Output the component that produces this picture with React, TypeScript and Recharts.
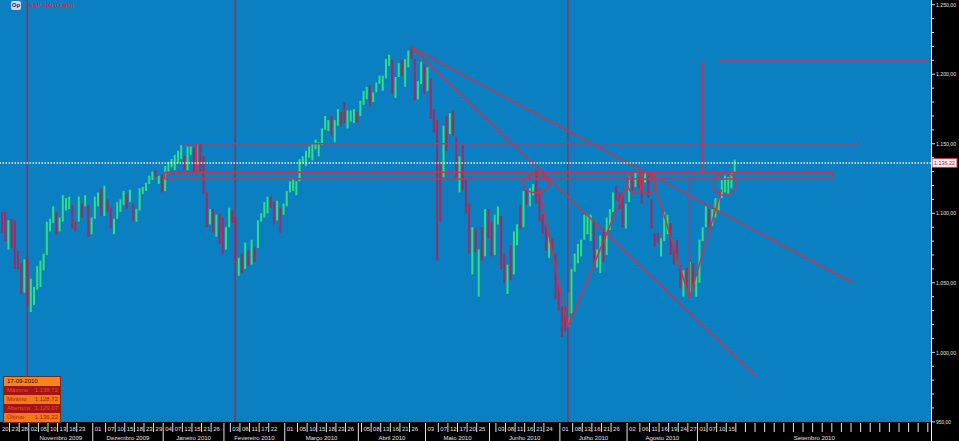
import { ComposedChart, Bar, XAxis, YAxis, CartesianGrid, Cell, ReferenceLine, ReferenceDot } from 'recharts'

// trading days shown on the chart, month by month
const MONTHS: [string, string, number[]][] = [
  ['2009-10', 'Outubro 2009', [20, 21, 22, 23, 26, 27, 28, 29, 30]],
  ['2009-11', 'Novembro 2009', [2, 3, 4, 5, 6, 9, 10, 11, 12, 13, 16, 17, 18, 19, 20, 23, 24, 25, 27, 30]],
  ['2009-12', 'Dezembro 2009', [1, 2, 3, 4, 7, 8, 9, 10, 11, 14, 15, 16, 17, 18, 21, 22, 23, 24, 28, 29, 30, 31]],
  ['2010-01', 'Janeiro 2010', [4, 5, 6, 7, 8, 11, 12, 13, 14, 15, 19, 20, 21, 22, 25, 26, 27, 28, 29]],
  ['2010-02', 'Fevereiro 2010', [1, 2, 3, 4, 5, 8, 9, 10, 11, 12, 16, 17, 18, 19, 22, 23, 24, 25, 26]],
  ['2010-03', 'Março 2010', [1, 2, 3, 4, 5, 8, 9, 10, 11, 12, 15, 16, 17, 18, 19, 22, 23, 24, 25, 26, 29, 30, 31]],
  ['2010-04', 'Abril 2010', [1, 5, 6, 7, 8, 9, 12, 13, 14, 15, 16, 19, 20, 21, 22, 23, 26, 27, 28, 29, 30]],
  ['2010-05', 'Maio 2010', [3, 4, 5, 6, 7, 10, 11, 12, 13, 14, 17, 18, 19, 20, 21, 24, 25, 26, 27, 28]],
  ['2010-06', 'Junho 2010', [1, 2, 3, 4, 7, 8, 9, 10, 11, 14, 15, 16, 17, 18, 21, 22, 23, 24, 25, 28, 29, 30]],
  ['2010-07', 'Julho 2010', [1, 2, 6, 7, 8, 9, 12, 13, 14, 15, 16, 19, 20, 21, 22, 23, 26, 27, 28, 29, 30]],
  ['2010-08', 'Agosto 2010', [2, 3, 4, 5, 6, 9, 10, 11, 12, 13, 16, 17, 18, 19, 20, 23, 24, 25, 26, 27, 30, 31]],
  ['2010-09', 'Setembro 2010', [1, 2, 3, 7, 8, 9, 10, 13, 14, 15, 16, 17]],
]

// days printed on the date row
const DAY_LABELS: Record<string, number[]> = {
  '2009-10': [20, 23, 28],
  '2009-11': [2, 5, 10, 13, 18, 23],
  '2009-12': [1, 7, 10, 15, 18, 23, 29],
  '2010-01': [4, 7, 12, 15, 21, 26],
  '2010-02': [3, 8, 11, 17, 22],
  '2010-03': [1, 5, 10, 15, 18, 23, 26],
  '2010-04': [5, 8, 13, 16, 21, 26],
  '2010-05': [3, 7, 12, 17, 20, 25],
  '2010-06': [3, 8, 11, 16, 21, 24],
  '2010-07': [1, 8, 13, 16, 21, 26],
  '2010-08': [2, 6, 11, 16, 19, 24, 27],
  '2010-09': [1, 7, 10, 15],
}

const FUTURE_SLOTS = 61

const highs = [
  1101, 1101, 1095, 1096, 1095, 1073, 1064, 1067, 1068,
  1053, 1047, 1062, 1066, 1071, 1094, 1096, 1105, 1101, 1097, 1113, 1111, 1112, 1106, 1094, 1112, 1107, 1113, 1106, 1097,
  1112, 1115, 1118, 1120, 1110, 1104, 1096, 1108, 1110, 1116, 1114, 1117, 1107, 1103, 1118, 1119, 1122, 1127, 1130, 1131, 1127, 1128,
  1134, 1137, 1139, 1142, 1145, 1149, 1141, 1148, 1148, 1147, 1150, 1150, 1141, 1115, 1103, 1103, 1099, 1100, 1097,
  1090, 1104, 1102, 1097, 1068, 1071, 1079, 1073, 1081, 1076, 1095, 1100, 1108, 1112, 1112, 1108, 1109, 1104, 1107,
  1116, 1123, 1125, 1123, 1139, 1141, 1145, 1148, 1150, 1153, 1151, 1161, 1170, 1167, 1170, 1167, 1175, 1173, 1180, 1174, 1174, 1175, 1173,
  1181, 1188, 1191, 1192, 1187, 1194, 1199, 1199, 1211, 1214, 1211, 1198, 1208, 1210, 1211, 1217, 1220, 1211, 1195, 1209, 1207,
  1205, 1197, 1175, 1167, 1136, 1163, 1170, 1172, 1174, 1155, 1141, 1149, 1124, 1107, 1090, 1089, 1074, 1090, 1103, 1103,
  1094, 1099, 1105, 1098, 1071, 1063, 1077, 1087, 1092, 1106, 1116, 1117, 1118, 1121, 1131, 1118, 1099, 1091, 1083, 1082, 1071, 1049,
  1033, 1033, 1043, 1060, 1071, 1078, 1081, 1099, 1099, 1099, 1094, 1074, 1084, 1089, 1097, 1103, 1115, 1120, 1115, 1115, 1107,
  1127, 1126, 1129, 1126, 1126, 1130, 1127, 1110, 1086, 1086, 1082, 1101, 1099, 1093, 1076, 1081, 1063, 1059, 1061, 1065, 1064, 1055,
  1081, 1090, 1105, 1103, 1103, 1111, 1111, 1124, 1127, 1126, 1129, 1138.72,
]

const lows = [
  1086, 1080, 1074, 1075, 1060, 1060, 1042, 1043, 1034,
  1029, 1034, 1045, 1047, 1059, 1070, 1087, 1093, 1085, 1087, 1094, 1102, 1103, 1089, 1087, 1094, 1097, 1105, 1083, 1085,
  1096, 1105, 1098, 1098, 1101, 1089, 1085, 1096, 1101, 1106, 1103, 1108, 1094, 1094, 1102, 1114, 1116, 1121, 1124, 1126, 1121, 1115,
  1116, 1129, 1133, 1131, 1136, 1139, 1131, 1131, 1142, 1129, 1135, 1129, 1114, 1090, 1092, 1086, 1083, 1078, 1071,
  1074, 1090, 1093, 1065, 1055, 1057, 1060, 1062, 1063, 1065, 1075, 1094, 1097, 1100, 1104, 1092, 1095, 1086, 1099,
  1105, 1115, 1116, 1113, 1123, 1136, 1134, 1140, 1138, 1146, 1141, 1149, 1160, 1159, 1156, 1151, 1163, 1163, 1165, 1161, 1166, 1165, 1165,
  1170, 1178, 1182, 1177, 1180, 1187, 1193, 1188, 1197, 1206, 1186, 1183, 1198, 1199, 1191, 1205, 1211, 1181, 1182, 1193, 1186,
  1188, 1168, 1158, 1066, 1094, 1126, 1145, 1157, 1156, 1126, 1115, 1117, 1100, 1071, 1056, 1072, 1040, 1066, 1069, 1082,
  1069, 1070, 1092, 1060, 1050, 1042, 1052, 1056, 1077, 1089, 1090, 1106, 1105, 1113, 1107, 1094, 1085, 1073, 1068, 1071, 1038, 1030,
  1011, 1015, 1018, 1028, 1058, 1064, 1069, 1081, 1085, 1080, 1064, 1061, 1057, 1065, 1070, 1088, 1101, 1109, 1103, 1090, 1089,
  1108, 1116, 1119, 1118, 1107, 1122, 1111, 1089, 1076, 1079, 1069, 1080, 1085, 1070, 1063, 1067, 1046, 1040, 1046, 1040, 1048, 1040,
  1050, 1080, 1090, 1090, 1091, 1097, 1101, 1111, 1115, 1114, 1118, 1128.72,
]

const closes = [
  1091, 1081, 1092, 1079, 1066, 1063, 1042, 1066, 1036,
  1042, 1046, 1047, 1066, 1069, 1093, 1093, 1098, 1087, 1093, 1109, 1110, 1110, 1094, 1091, 1106, 1105, 1110, 1091, 1096,
  1109, 1109, 1099, 1106, 1104, 1091, 1095, 1103, 1106, 1114, 1108, 1110, 1097, 1102, 1114, 1118, 1121, 1127, 1128, 1126, 1126, 1115,
  1133, 1137, 1137, 1142, 1145, 1147, 1137, 1146, 1148, 1136, 1150, 1138, 1116, 1092, 1097, 1093, 1097, 1084, 1074,
  1090, 1104, 1098, 1066, 1066, 1058, 1070, 1068, 1078, 1075, 1095, 1099, 1106, 1109, 1108, 1095, 1105, 1102, 1105,
  1115, 1119, 1119, 1122, 1138, 1138, 1140, 1146, 1150, 1150, 1150, 1160, 1166, 1166, 1160, 1166, 1174, 1167, 1165, 1167, 1170, 1173, 1169,
  1178, 1187, 1190, 1182, 1187, 1194, 1197, 1197, 1211, 1212, 1192, 1197, 1207, 1205, 1208, 1217, 1212, 1183, 1191, 1206, 1187,
  1202, 1173, 1166, 1128, 1111, 1159, 1156, 1172, 1157, 1136, 1136, 1120, 1115, 1071, 1088, 1074, 1074, 1068, 1103, 1089,
  1070, 1098, 1102, 1065, 1050, 1062, 1055, 1087, 1092, 1090, 1115, 1114, 1116, 1118, 1113, 1096, 1093, 1076, 1076, 1075, 1041, 1031,
  1027, 1022, 1028, 1060, 1070, 1078, 1079, 1095, 1095, 1096, 1065, 1071, 1083, 1069, 1094, 1102, 1115, 1113, 1106, 1101, 1102,
  1125, 1120, 1127, 1125, 1122, 1128, 1122, 1089, 1083, 1079, 1080, 1093, 1095, 1075, 1071, 1067, 1052, 1055, 1047, 1065, 1048, 1049,
  1080, 1090, 1104, 1091, 1099, 1104, 1110, 1121, 1121, 1125, 1125, 1136.22,
]

const LAST_PRICE = 1136.22
const PRICE_LABELS = [950, 1000, 1050, 1100, 1150, 1200, 1250]

// drawn studies: [slotA, priceA, slotB, priceB]
const SEGMENTS: [number, number, number, number][] = [
  [219, 1208.9, 219, 1129.8],
  [215, 1124.6, 215, 1039.1],
  [61, 1150, 61, 1129.5],
  [57, 1150, 268, 1150],
  [51, 1129.5, 260, 1129.5],
  [51, 1124.6, 260, 1124.6],
  [51, 1129.5, 51, 1124.6],
  [260, 1129.5, 260, 1124.6],
  [224, 1209.6, 290, 1209.6],
  [128, 1219.6, 236, 982.4],
  [128, 1219.6, 266, 1050.2],
  [168, 1117.6, 177, 1018.3],
  [177, 1018.3, 196, 1123.3],
  [203, 1128.9, 215, 1039.1],
  [215, 1039.1, 225, 1116.9],
]
const FULL_VLINES = [8, 73, 177]
// [slot, price, rx, ry]
const ELLIPSES: [number, number, number, number][] = [
  [167, 1121.2, 13, 9],
  [198, 1121.9, 7.5, 11],
  [202, 1121.9, 8, 11],
  [226, 1121.2, 11.5, 11.5],
]

const W = 959
const H = 441
const AXIS_W = 28
const PLOT_W = W - AXIS_W
const DATE_H = 19
const SLOTS = highs.length + FUTURE_SLOTS
const BAND = PLOT_W / SLOTS
const FONT = '"Liberation Sans", Arial, sans-serif'
const AXIS_TEXT = '#e4e4e4'
const ANN = '#c8344f'

type Row = { slot: string; month: string; day: number | null; range?: [number, number]; up?: boolean }

const rows: Row[] = []
MONTHS.forEach(([m, , days]) => {
  days.forEach((d) => {
    const n = rows.length
    rows.push({
      slot: `${m}-${d}`,
      month: m,
      day: d,
      range: [lows[n], highs[n]],
      up: n > 0 && closes[n] >= closes[n - 1],
    })
  })
})
for (let i = 0; i < FUTURE_SLOTS; i++) rows.push({ slot: `f${i}`, month: '2010-09', day: null })

const slotIndex: Record<string, number> = {}
rows.forEach((r, i) => { slotIndex[r.slot] = i })
const monthSpan: Record<string, number> = {}
rows.forEach((r) => { monthSpan[r.month] = (monthSpan[r.month] || 0) + 1 })
const monthName: Record<string, string> = {}
MONTHS.forEach(([m, name]) => { monthName[m] = name })

const k = (i: number) => rows[i].slot

const fmt = (v: number) => {
  const [int, dec] = v.toFixed(2).split('.')
  return int.replace(/\B(?=(\d{3})+(?!\d))/g, '.') + ',' + dec
}

function DateTick(props: any) {
  const { x, y, payload } = props
  const i = slotIndex[payload.value]
  if (i === undefined) return null
  const row = rows[i]
  const left = x - BAND / 2
  const monthStart = i === 0 || rows[i - 1].month !== row.month
  const labeled = row.day !== null && (DAY_LABELS[row.month] || []).includes(row.day)
  const futureCell = row.day === null && i % 3 === highs.length % 3
  const span = monthSpan[row.month]
  return (
    <g>
      {(labeled || futureCell) && !monthStart && (
        <line x1={left} x2={left} y1={y + 1} y2={y + 10} stroke={AXIS_TEXT} strokeWidth={1} />
      )}
      {monthStart && i > 0 && <line x1={left} x2={left} y1={y + 1} y2={y + 19} stroke={AXIS_TEXT} strokeWidth={1} />}
      {labeled && (
        <text x={left + 2} y={y + 8.5} fontSize={6} fill={AXIS_TEXT} fontFamily={FONT}>
          {String(row.day).padStart(2, '0')}
        </text>
      )}
      {monthStart && span > 15 && (
        <text x={left + (span * BAND) / 2} y={y + 17.5} fontSize={6} fill={AXIS_TEXT} fontFamily={FONT} textAnchor="middle">
          {monthName[row.month]}
        </text>
      )}
    </g>
  )
}

function PriceTick(props: any) {
  const { x, y, payload } = props
  const v = payload.value
  const major = PRICE_LABELS.includes(v)
  const label = fmt(v)
  return (
    <g>
      <line x1={x + 1} x2={x + (major ? 4 : 3)} y1={y} y2={y} stroke={AXIS_TEXT} strokeWidth={1} />
      {major && (
        <text
          x={x + 5}
          y={y + 2.2}
          fontSize={6}
          fill={AXIS_TEXT}
          fontFamily={FONT}
          textLength={label.length > 6 ? 20 : 15}
          lengthAdjust="spacingAndGlyphs"
        >
          {label}
        </text>
      )}
    </g>
  )
}

function LastPriceLabel(props: any) {
  const { viewBox } = props
  const x = viewBox.x + viewBox.width + 1
  const y = viewBox.y
  return (
    <g>
      <rect x={x} y={y - 4.5} width={25} height={9} fill="#f6ecec" stroke="#c0304a" strokeWidth={1} />
      <text
        x={x + 2}
        y={y + 2.2}
        fontSize={6}
        fill="#b0203a"
        fontFamily={FONT}
        textLength={21}
        lengthAdjust="spacingAndGlyphs"
      >
        {fmt(LAST_PRICE)}
      </text>
    </g>
  )
}

const ellipseShape = (rx: number, ry: number) => (p: any) => (
  <ellipse cx={p.cx} cy={p.cy} rx={rx} ry={ry} fill="none" stroke={ANN} strokeWidth={1.5} />
)

const priceTicks: number[] = []
for (let v = 950; v <= 1250; v += 10) priceTicks.push(v)

const infoRows: [string, string, string, string][] = [
  ['Máximo', '1.138,72', '#a5140f', '#e2503a'],
  ['Mínimo', '1.128,72', '#f07a18', '#b3130f'],
  ['Abertura', '1.129,07', '#a5140f', '#e2503a'],
  ['Último', '1.136,22', '#f07a18', '#b3130f'],
]

export default function App() {
  return (
    <div style={{ position: 'relative', width: W, height: H, background: '#000', overflow: 'hidden', fontFamily: FONT }}>
      <style>{'body{margin:0}'}</style>
      <ComposedChart width={W} height={H} data={rows} margin={{ top: 0, right: 0, bottom: 0, left: 0 }} barCategoryGap={0}>
        <CartesianGrid fill="#0a7fc1" stroke="none" horizontal={false} vertical={false} />
        <XAxis
          dataKey="slot"
          height={DATE_H}
          interval={0}
          tickSize={0}
          tickMargin={0}
          axisLine={false}
          tickLine={false}
          tick={<DateTick />}
        />
        <YAxis
          orientation="right"
          width={AXIS_W}
          domain={[949.9, 1253.38]}
          allowDataOverflow
          ticks={priceTicks}
          interval={0}
          tickSize={0}
          tickMargin={0}
          axisLine={false}
          tickLine={false}
          tick={<PriceTick />}
        />
        <Bar dataKey="range" barSize={2} isAnimationActive={false}>
          {rows.map((r, i) => (
            <Cell key={i} fill={r.up ? '#2fe07c' : '#a52a5a'} />
          ))}
        </Bar>
        {FULL_VLINES.map((s) => (
          <ReferenceLine key={`v${s}`} x={k(s)} stroke="#a02c50" strokeWidth={1.5} />
        ))}
        {SEGMENTS.map(([a, pa, b, pb], i) => (
          <ReferenceLine
            key={`s${i}`}
            segment={[{ x: k(a), y: pa }, { x: k(b), y: pb }]}
            stroke={ANN}
            strokeWidth={1.5}
          />
        ))}
        {ELLIPSES.map(([s, p, rx, ry], i) => (
          <ReferenceDot key={`e${i}`} x={k(s)} y={p} r={10} shape={ellipseShape(rx, ry)} />
        ))}
        <ReferenceLine
          y={LAST_PRICE}
          stroke="#eef0c4"
          strokeWidth={1.5}
          strokeDasharray="1.5 1.5"
          label={<LastPriceLabel />}
        />
      </ComposedChart>
      <div style={{ position: 'absolute', left: PLOT_W, top: 0, width: 1, height: H, background: '#f0f0f0' }} />
      <div
        style={{
          position: 'absolute', left: 11, top: 1, width: 10, height: 9, background: '#d4d4ee', color: '#202a80',
          fontSize: 6, fontWeight: 'bold', lineHeight: '9px', textAlign: 'center', borderRadius: 2,
        }}
      >
        Op
      </div>
      <div style={{ position: 'absolute', left: 29, top: 1, fontSize: 6, color: '#e0203a', lineHeight: '8px' }}>
        S&amp;P 500 (Diário)
      </div>
      <div style={{ position: 'absolute', left: 3, top: 376, width: 56, border: '1px solid #7a2a10', fontSize: 6, lineHeight: '8.6px' }}>
        <div style={{ background: '#f7841c', color: '#111', paddingLeft: 3, height: 9 }}>17-09-2010</div>
        {infoRows.map(([label, value, bg, fg]) => (
          <div key={label} style={{ background: bg, color: fg, display: 'flex', justifyContent: 'space-between', padding: '0 2px 0 3px', height: 9 }}>
            <span>{label}</span>
            <span>{value}</span>
          </div>
        ))}
      </div>
    </div>
  )
}
